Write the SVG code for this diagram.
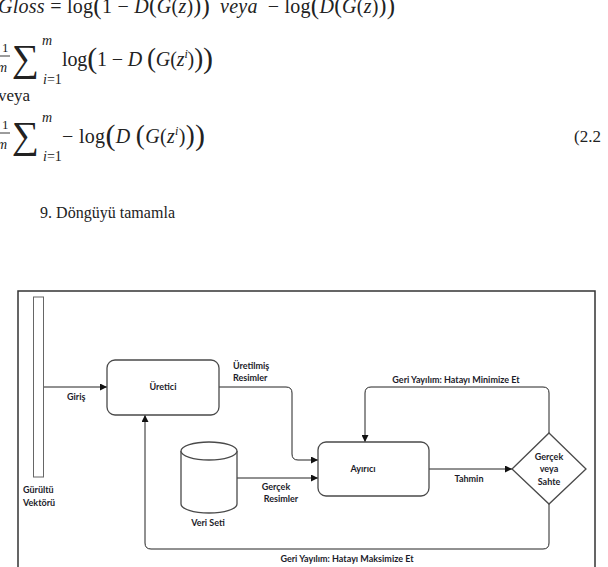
<svg xmlns="http://www.w3.org/2000/svg" width="608" height="567" viewBox="0 0 608 567">
  <style>
    .m { font-family: "Liberation Serif", "DejaVu Serif", serif; fill: #222; }
    .i { font-style: italic; }
    .body { font-family: "Liberation Serif", serif; font-size: 16px; fill: #222; }
    .lbl { font-family: Lato, "Liberation Sans", sans-serif; font-weight: 700; font-size: 9px; fill: #1c1c2a; }
    .node { fill: #fff; stroke: #4a4a4a; stroke-width: 1.3; }
    .conn { fill: none; stroke: #222; stroke-width: 1; }
  </style>
  <defs>
    <marker id="arrow" viewBox="0 0 10 10" refX="10" refY="5" markerWidth="7" markerHeight="7" markerUnits="userSpaceOnUse" orient="auto">
      <path d="M0,0 L10,5 L0,10 z" fill="#111"/>
    </marker>
  </defs>

  <rect width="608" height="567" fill="#fff"/>

  <!-- loss formulas -->
  <g id="formulas">
    <text class="m" x="-2" y="13" font-size="20" textLength="397" lengthAdjust="spacing"><tspan class="i">Gloss</tspan> = log<tspan font-size="25" dy="1">(</tspan><tspan dy="-1">1 − </tspan><tspan class="i">D</tspan><tspan font-size="23">(</tspan><tspan class="i">G</tspan>(<tspan class="i">z</tspan>)<tspan font-size="23">)</tspan><tspan font-size="25" dy="1">)</tspan><tspan class="i" dx="10" dy="-1">veya</tspan><tspan dx="10">− log</tspan><tspan font-size="25" dy="1">(</tspan><tspan class="i" dy="-1">D</tspan><tspan font-size="23">(</tspan><tspan class="i">G</tspan>(<tspan class="i">z</tspan>)<tspan font-size="23">)</tspan><tspan font-size="25" dy="1">)</tspan></text>

    <text class="m" x="2" y="52" font-size="13">1</text>
    <line x1="0" y1="56" x2="10" y2="56" stroke="#222" stroke-width="0.9"/>
    <text class="m i" x="-3" y="72" font-size="14">m</text>
    <text class="m" x="12" y="71" font-size="38">∑</text>
    <text class="m i" x="42" y="45" font-size="14">m</text>
    <text class="m" x="43" y="84" font-size="14"><tspan class="i">i</tspan>=1</text>
    <text class="m" x="62" y="66" font-size="20" textLength="151" lengthAdjust="spacing">log<tspan font-size="30" dy="2">(</tspan><tspan dy="-2">1 − </tspan><tspan class="i">D</tspan> <tspan font-size="27" dy="1">(</tspan><tspan class="i" dy="-1">G</tspan>(<tspan class="i">z</tspan><tspan class="i" font-size="12" dy="-8">i</tspan><tspan dy="8">)</tspan><tspan font-size="27" dy="1">)</tspan><tspan font-size="30" dy="1">)</tspan></text>

    <text class="m" x="-2" y="101" font-size="17">veya</text>

    <text class="m" x="2" y="129" font-size="13">1</text>
    <line x1="0" y1="133" x2="10" y2="133" stroke="#222" stroke-width="0.9"/>
    <text class="m i" x="-3" y="149" font-size="14">m</text>
    <text class="m" x="12" y="148" font-size="38">∑</text>
    <text class="m i" x="42" y="122" font-size="14">m</text>
    <text class="m" x="43" y="161" font-size="14"><tspan class="i">i</tspan>=1</text>
    <text class="m" x="62" y="143" font-size="20" textLength="143" lengthAdjust="spacing">− log<tspan font-size="30" dy="2">(</tspan><tspan class="i" dy="-2">D</tspan> <tspan font-size="27" dy="1">(</tspan><tspan class="i" dy="-1">G</tspan>(<tspan class="i">z</tspan><tspan class="i" font-size="12" dy="-8">i</tspan><tspan dy="8">)</tspan><tspan font-size="27" dy="1">)</tspan><tspan font-size="30" dy="1">)</tspan></text>

    <text class="m" x="574" y="142" font-size="17">(2.2</text>
  </g>

  <text class="body" x="40" y="218" textLength="135" lengthAdjust="spacing">9.  Döngüyü tamamla</text>

  <!-- outer frame of the figure -->
  <rect x="18" y="291" width="577" height="290" fill="none" stroke="#333" stroke-width="1.5"/>

  <!-- connectors -->
  <g id="connectors" class="conn">
    <path d="M44,387 H107" marker-end="url(#arrow)"/>
    <path d="M219,387 H286 Q292,387 292,393 V454 Q292,460 298,460 H318" marker-end="url(#arrow)"/>
    <path d="M237,478 H318" marker-end="url(#arrow)"/>
    <path d="M429,469 H512" marker-end="url(#arrow)"/>
    <path d="M549,433 V393 Q549,387 543,387 H371 Q365,387 365,393 V442" marker-end="url(#arrow)"/>
    <path d="M549,504 V543 Q549,549 543,549 H151 Q145,549 145,543 V415" marker-end="url(#arrow)"/>
  </g>

  <g id="noise-vector">
    <rect x="33.5" y="297" width="10" height="180" fill="#fff" stroke="#666" stroke-width="1"/>
    <text class="lbl" x="23" y="493">Gürültü</text>
    <text class="lbl" x="23" y="506">Vektörü</text>
  </g>

  <g id="generator">
    <rect class="node" x="107" y="360" width="112" height="55" rx="8"/>
    <text class="lbl" x="163" y="390" text-anchor="middle">Üretici</text>
  </g>

  <g id="discriminator">
    <rect class="node" x="318" y="442" width="111" height="54" rx="8"/>
    <text class="lbl" x="363" y="472" text-anchor="middle">Ayırıcı</text>
  </g>

  <g id="dataset">
    <path class="node" d="M181,451 V504 A28,9 0 0 0 237,504 V451"/>
    <ellipse class="node" cx="209" cy="451" rx="28" ry="9"/>
    <text class="lbl" x="208" y="526" text-anchor="middle">Veri Seti</text>
  </g>

  <g id="decision">
    <polygon class="node" points="549,433 586,469 549,504 512,469"/>
    <text class="lbl" x="549" y="460" text-anchor="middle">Gerçek</text>
    <text class="lbl" x="549" y="472" text-anchor="middle">veya</text>
    <text class="lbl" x="549" y="485" text-anchor="middle">Sahte</text>
  </g>

  <!-- connector labels -->
  <g id="connector-labels">
    <text class="lbl" x="67" y="400">Giriş</text>
    <text class="lbl" x="233" y="369">Üretilmiş</text>
    <text class="lbl" x="233" y="381">Resimler</text>
    <text class="lbl" x="276" y="490" text-anchor="middle">Gerçek</text>
    <text class="lbl" x="281" y="502" text-anchor="middle">Resimler</text>
    <text class="lbl" x="469" y="482" text-anchor="middle">Tahmin</text>
    <text class="lbl" x="456" y="383" text-anchor="middle">Geri Yayılım: Hatayı Minimize Et</text>
    <text class="lbl" x="347" y="562" text-anchor="middle">Geri Yayılım: Hatayı Maksimize Et</text>
  </g>
</svg>
